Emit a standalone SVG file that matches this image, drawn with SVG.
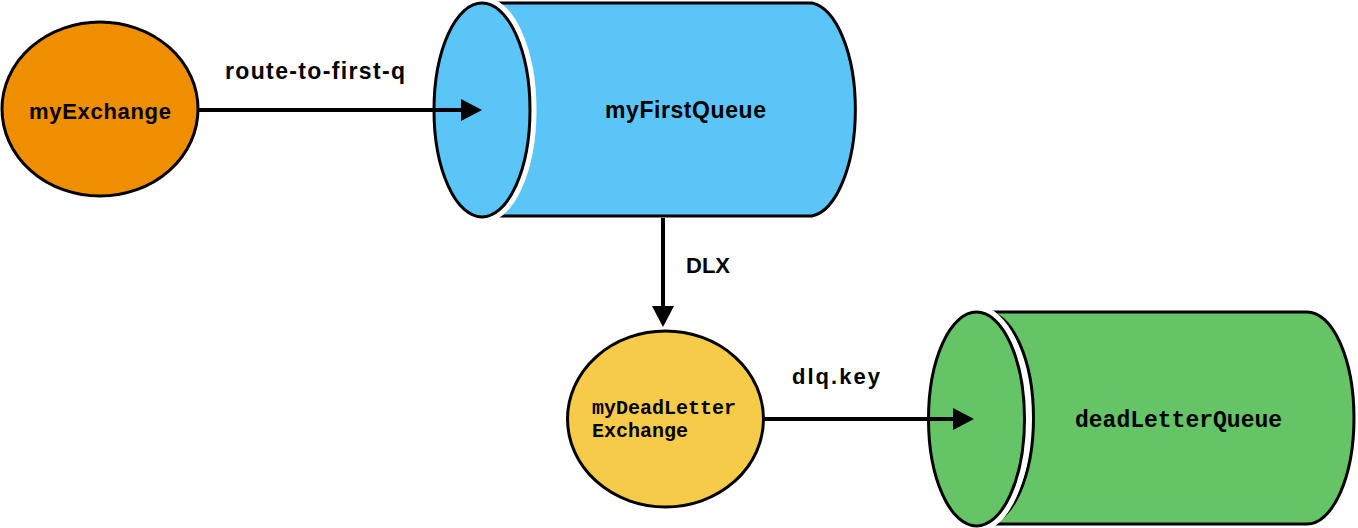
<svg xmlns="http://www.w3.org/2000/svg" width="1358" height="528" viewBox="0 0 1358 528">
<defs>
<style>
.sans{font-family:"Liberation Sans",Arial,sans-serif;font-weight:700;font-size:22px;fill:#000}
.mono{font-family:"Liberation Mono","Courier New",monospace;font-weight:700;fill:#000}
.edge{stroke:#000;stroke-width:4;fill:none}
.out{stroke:#000;stroke-width:3}
.gap{fill:none;stroke:#fff;stroke-width:13}
</style>
<marker id="ah" markerUnits="userSpaceOnUse" markerWidth="22" markerHeight="24" refX="1" refY="11" orient="auto">
<path d="M0,0 L21,11 L0,22 Z" fill="#000"/>
</marker>
</defs>
<rect width="1358" height="528" fill="#fff"/>

<g id="myExchange">
<ellipse cx="100" cy="109" rx="98" ry="87" fill="#EF8F00" class="out"/>
<text class="sans" x="29" y="119" textLength="142" lengthAdjust="spacing">myExchange</text>
</g>

<g id="myFirstQueue">
<path d="M491,3 H812 A48,107 0 0 1 812,216 H491 A48,107 0 0 0 491,3 Z" fill="#5BC5F7" class="out"/>
<ellipse cx="482" cy="110" rx="48" ry="107" class="gap"/>
<ellipse cx="482" cy="110" rx="48" ry="107" fill="#5BC5F7" class="out"/>
<text class="sans" x="605" y="118" style="font-size:23px" textLength="161" lengthAdjust="spacing">myFirstQueue</text>
</g>

<g id="myDeadLetterExchange">
<ellipse cx="665.5" cy="419" rx="98" ry="88" fill="#F6CB4A" class="out"/>
<text class="mono" font-size="20" x="592" y="414">myDeadLetter</text>
<text class="mono" font-size="20" x="592" y="437">Exchange</text>
</g>

<g id="deadLetterQueue">
<path d="M985.5,312 H1307 A47,106 0 0 1 1307,524 H985.5 A48,106 0 0 0 985.5,312 Z" fill="#64C466" class="out"/>
<ellipse cx="976.5" cy="419" rx="48" ry="107" class="gap"/>
<ellipse cx="976.5" cy="419" rx="48" ry="107" fill="#64C466" class="out"/>
<text class="mono" font-size="23" x="1075" y="427">deadLetterQueue</text>
</g>

<g id="connectors">
<line x1="198" y1="110" x2="462" y2="110" class="edge" marker-end="url(#ah)"/>
<line x1="663" y1="218" x2="663" y2="307" class="edge" marker-end="url(#ah)"/>
<line x1="764" y1="419" x2="954" y2="419" class="edge" marker-end="url(#ah)"/>
<text class="sans" x="225" y="79" style="font-size:23px" textLength="180" lengthAdjust="spacing">route-to-first-q</text>
<text class="sans" x="686" y="273" textLength="44" lengthAdjust="spacing">DLX</text>
<text class="sans" x="792" y="384" textLength="88" lengthAdjust="spacing">dlq.key</text>
</g>
</svg>
